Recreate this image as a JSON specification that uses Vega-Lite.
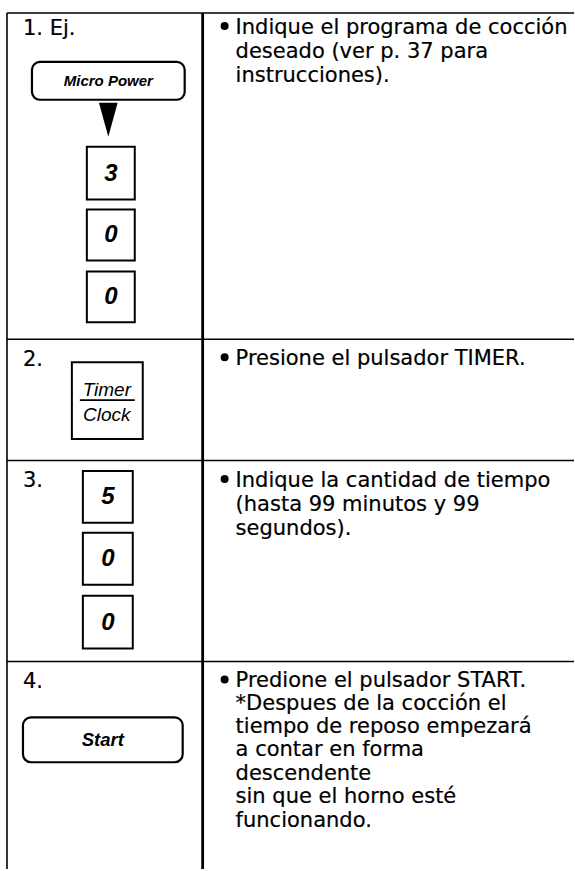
{
  "$schema": "https://vega.github.io/schema/vega-lite/v6.json",
  "width": 575,
  "height": 871,
  "autosize": {"type": "fit", "contains": "padding"},
  "padding": 0,
  "background": "white",
  "config": {"view": {"stroke": null}},
  "datasets": {
    "thinRules": [
      {"x": 7, "y": 13, "x2": 575, "y2": 13},
      {"x": 7, "y": 13, "x2": 7, "y2": 871},
      {"x": 7, "y": 340, "x2": 575, "y2": 340},
      {"x": 7, "y": 461.5, "x2": 575, "y2": 461.5},
      {"x": 7, "y": 663, "x2": 575, "y2": 663}
    ],
    "thickRules": [
      {"x": 203, "y": 13, "x2": 203, "y2": 871}
    ],
    "separator": [
      {"x": 80, "y": 401, "x2": 135, "y2": 401}
    ],
    "keys": [
      {"x": 87, "x2": 135, "y": 147, "y2": 200},
      {"x": 87, "x2": 135, "y": 210, "y2": 261},
      {"x": 87, "x2": 135, "y": 272, "y2": 323},
      {"x": 72, "x2": 143, "y": 363, "y2": 440},
      {"x": 83, "x2": 133, "y": 472, "y2": 524},
      {"x": 83, "x2": 133, "y": 534, "y2": 586},
      {"x": 83, "x2": 133, "y": 597, "y2": 650}
    ],
    "buttons": [
      {"x": 32, "x2": 185, "y": 62, "y2": 100},
      {"x": 23, "x2": 183, "y": 719, "y2": 764}
    ],
    "arrow": [{"x": 108.5, "y": 120}],
    "bullets": [
      {"x": 225, "y": 26},
      {"x": 225, "y": 358},
      {"x": 225, "y": 480},
      {"x": 225, "y": 681}
    ],
    "body": [
      {"x": 236, "y": 34, "text": "Indique el programa de cocción"},
      {"x": 236, "y": 58, "text": "deseado (ver p. 37 para"},
      {"x": 236, "y": 82, "text": "instrucciones)."},
      {"x": 236, "y": 366, "text": "Presione el pulsador TIMER."},
      {"x": 236, "y": 488, "text": "Indique la cantidad de tiempo"},
      {"x": 236, "y": 512, "text": "(hasta 99 minutos y 99"},
      {"x": 236, "y": 536, "text": "segundos)."},
      {"x": 236, "y": 689, "text": "Predione el pulsador START."},
      {"x": 236, "y": 712, "text": "*Despues de la cocción el"},
      {"x": 236, "y": 735, "text": "tiempo de reposo empezará"},
      {"x": 236, "y": 758, "text": "a contar en forma"},
      {"x": 236, "y": 782, "text": "descendente"},
      {"x": 236, "y": 805, "text": "sin que el horno esté"},
      {"x": 236, "y": 829, "text": "funcionando."}
    ],
    "steps": [
      {"x": 23, "y": 35, "text": "1. Ej."},
      {"x": 23, "y": 367, "text": "2."},
      {"x": 23, "y": 488, "text": "3."},
      {"x": 23, "y": 690, "text": "4."}
    ],
    "digits": [
      {"x": 111, "y": 174, "text": "3"},
      {"x": 111, "y": 236, "text": "0"},
      {"x": 111, "y": 298, "text": "0"},
      {"x": 108, "y": 498, "text": "5"},
      {"x": 108, "y": 560, "text": "0"},
      {"x": 108, "y": 624, "text": "0"}
    ],
    "smallButtonText": [
      {"x": 108.5, "y": 81, "text": "Micro Power"}
    ],
    "startText": [
      {"x": 103, "y": 741.5, "text": "Start"}
    ],
    "timerText": [
      {"x": 107, "y": 397, "text": "Timer"},
      {"x": 107, "y": 422, "text": "Clock"}
    ]
  },
  "encoding": {
    "x": {"field": "x", "type": "quantitative", "scale": {"domain": [0, 575], "nice": false, "zero": false}, "axis": null},
    "y": {"field": "y", "type": "quantitative", "scale": {"domain": [0, 871], "nice": false, "zero": false, "reverse": true}, "axis": null}
  },
  "layer": [
    {
      "data": {"name": "thinRules"},
      "mark": {"type": "rule", "stroke": "black", "strokeWidth": 1.6},
      "encoding": {"x2": {"field": "x2"}, "y2": {"field": "y2"}}
    },
    {
      "data": {"name": "thickRules"},
      "mark": {"type": "rule", "stroke": "black", "strokeWidth": 2.8},
      "encoding": {"x2": {"field": "x2"}, "y2": {"field": "y2"}}
    },
    {
      "data": {"name": "keys"},
      "mark": {"type": "rect", "fill": "white", "stroke": "black", "strokeWidth": 2},
      "encoding": {"x2": {"field": "x2"}, "y2": {"field": "y2"}}
    },
    {
      "data": {"name": "buttons"},
      "mark": {"type": "rect", "fill": "white", "stroke": "black", "strokeWidth": 2.2, "cornerRadius": 8},
      "encoding": {"x2": {"field": "x2"}, "y2": {"field": "y2"}}
    },
    {
      "data": {"name": "separator"},
      "mark": {"type": "rule", "stroke": "black", "strokeWidth": 1.8},
      "encoding": {"x2": {"field": "x2"}, "y2": {"field": "y2"}}
    },
    {
      "data": {"name": "arrow"},
      "mark": {"type": "point", "shape": "M-0.55,-1L0.55,-1L0,1Z", "size": 1156, "filled": true, "fill": "black", "opacity": 1, "strokeWidth": 0}
    },
    {
      "data": {"name": "bullets"},
      "mark": {"type": "point", "shape": "circle", "size": 64, "filled": true, "fill": "black", "opacity": 1, "strokeWidth": 0}
    },
    {
      "data": {"name": "body"},
      "mark": {"type": "text", "align": "left", "baseline": "alphabetic", "font": "DejaVu Sans", "fontSize": 21, "fill": "black", "stroke": "black", "strokeWidth": 0.2},
      "encoding": {"text": {"field": "text"}}
    },
    {
      "data": {"name": "steps"},
      "mark": {"type": "text", "align": "left", "baseline": "alphabetic", "font": "DejaVu Sans", "fontSize": 21, "fill": "black", "stroke": "black", "strokeWidth": 0.2},
      "encoding": {"text": {"field": "text"}}
    },
    {
      "data": {"name": "digits"},
      "mark": {"type": "text", "align": "center", "baseline": "middle", "font": "Liberation Sans", "fontSize": 24, "fontWeight": "bold", "fontStyle": "italic", "fill": "black"},
      "encoding": {"text": {"field": "text"}}
    },
    {
      "data": {"name": "smallButtonText"},
      "mark": {"type": "text", "align": "center", "baseline": "middle", "font": "Liberation Sans", "fontSize": 15, "fontWeight": "bold", "fontStyle": "italic", "fill": "black"},
      "encoding": {"text": {"field": "text"}}
    },
    {
      "data": {"name": "startText"},
      "mark": {"type": "text", "align": "center", "baseline": "middle", "font": "Liberation Sans", "fontSize": 18.5, "fontWeight": "bold", "fontStyle": "italic", "fill": "black"},
      "encoding": {"text": {"field": "text"}}
    },
    {
      "data": {"name": "timerText"},
      "mark": {"type": "text", "align": "center", "baseline": "alphabetic", "font": "Liberation Sans", "fontSize": 19, "fontStyle": "italic", "fill": "black"},
      "encoding": {"text": {"field": "text"}}
    }
  ]
}
